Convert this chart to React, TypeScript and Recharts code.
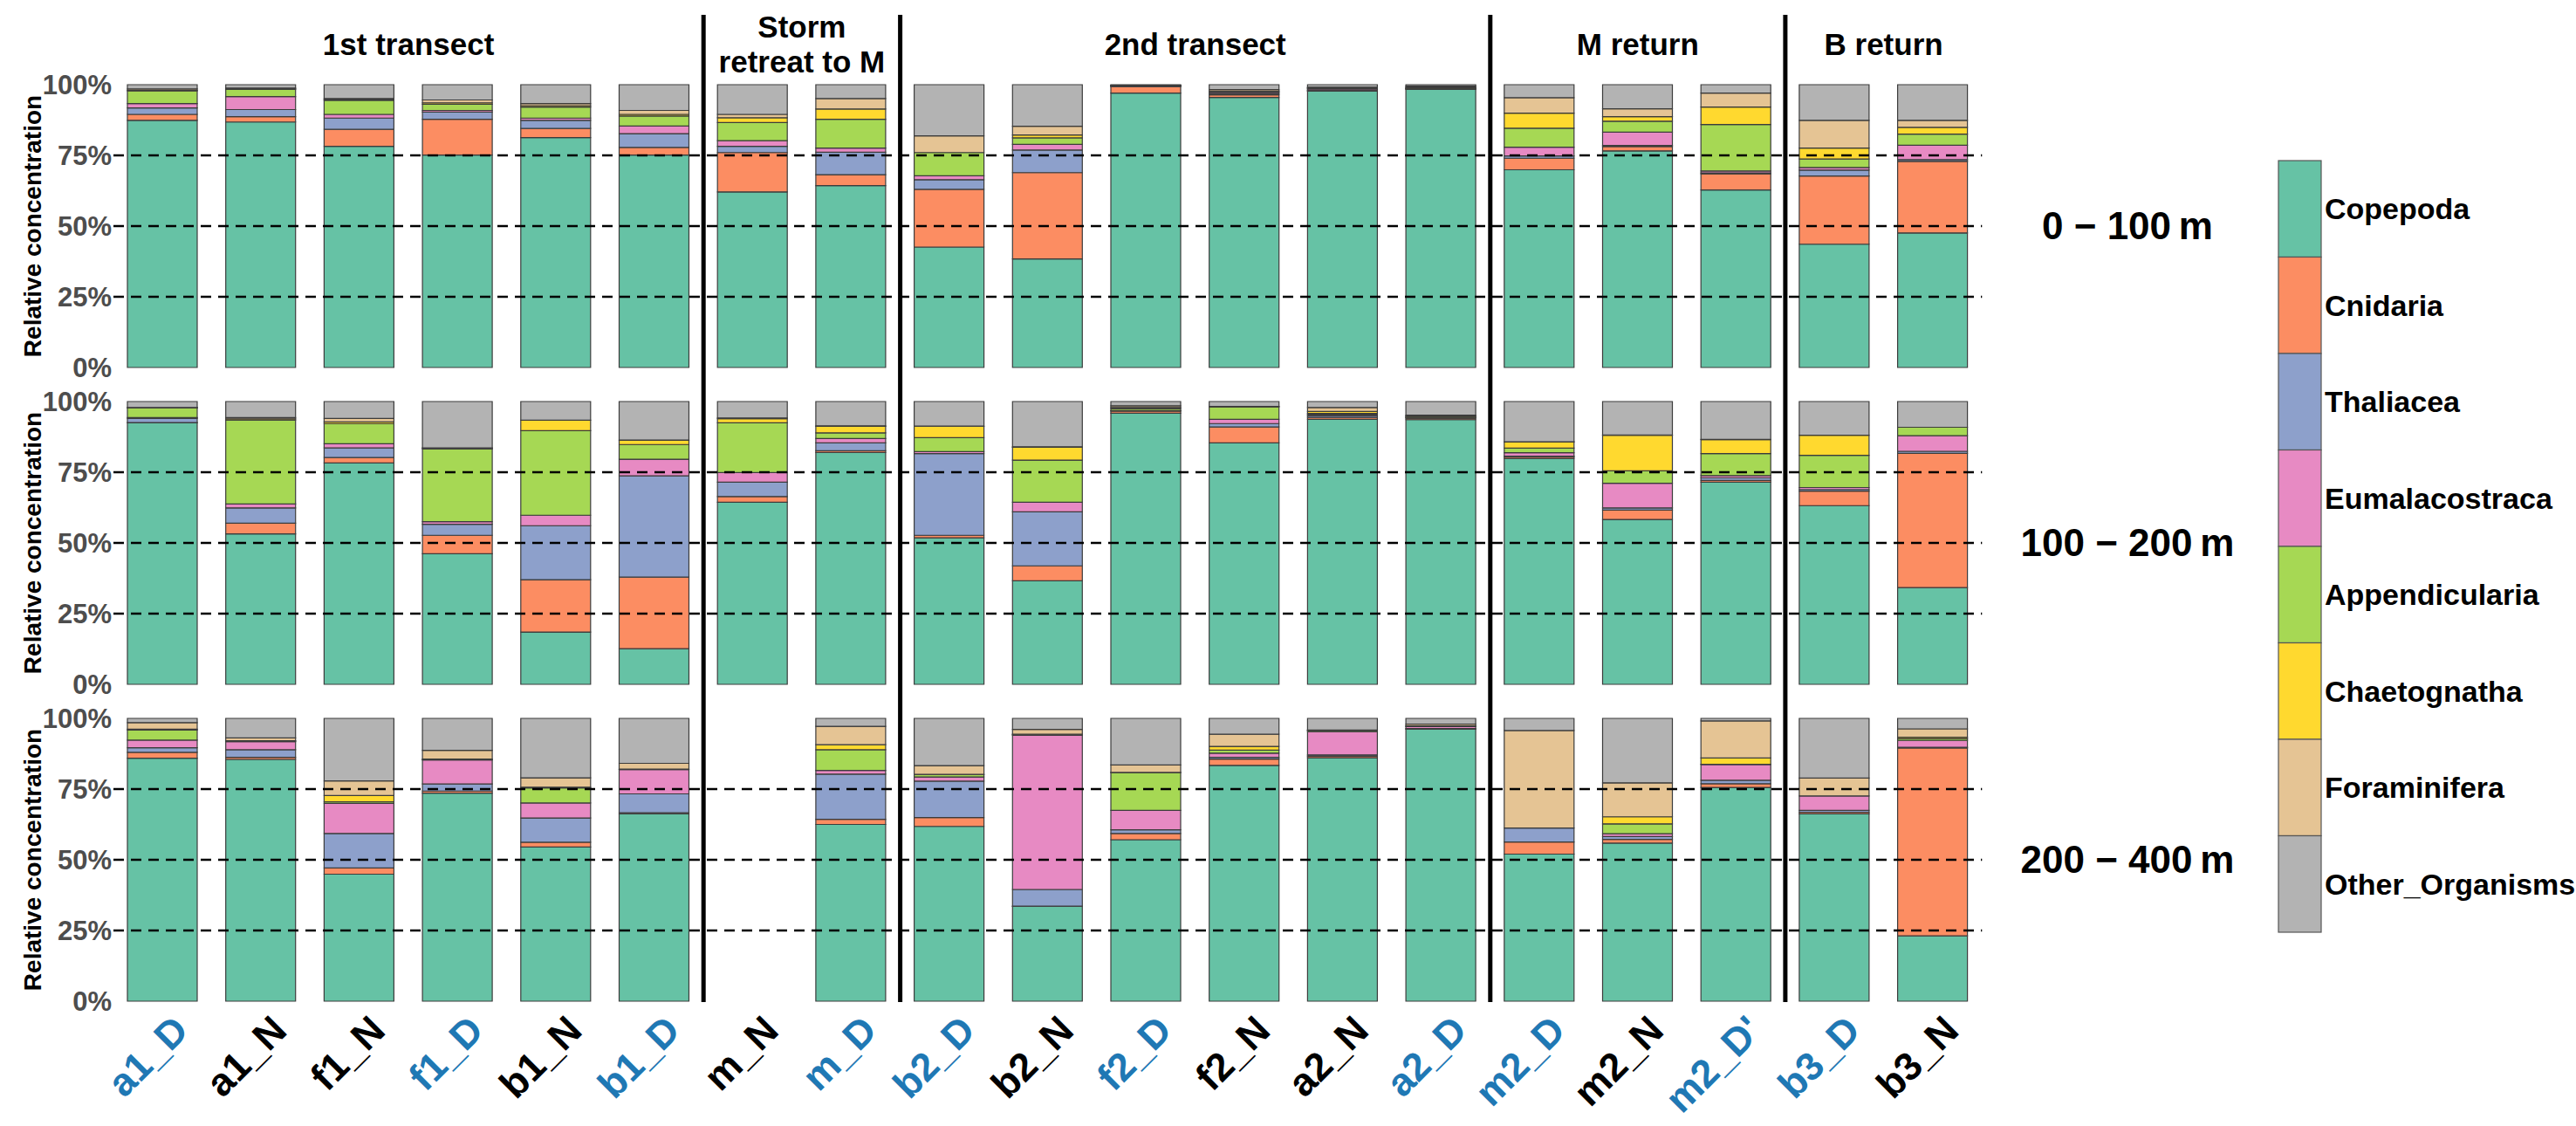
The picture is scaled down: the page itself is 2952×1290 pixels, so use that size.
import React from "react";
import { BarChart, Bar, XAxis, YAxis, ReferenceLine } from "recharts";

const FONT = "'Liberation Sans', Arial, Helvetica, sans-serif";

const samples = [
  "a1_D", "a1_N", "f1_N", "f1_D", "b1_N", "b1_D", "m_N", "m_D",
  "b2_D", "b2_N", "f2_D", "f2_N", "a2_N", "a2_D",
  "m2_D", "m2_N", "m2_D'", "b3_D", "b3_N",
];

const taxa = [
  "Copepoda", "Cnidaria", "Thaliacea", "Eumalacostraca",
  "Appendicularia", "Chaetognatha", "Foraminifera", "Other_Organisms",
];

// ColorBrewer Set2
const taxaColors = [
  "#66C2A5", "#FC8D62", "#8DA0CB", "#E78AC3",
  "#A6D854", "#FFD92F", "#E5C494", "#B3B3B3",
];

const groupNames = ["1st transect", "Storm\nretreat to M", "2nd transect", "M return", "B return"];
const groupSizes = [6, 2, 6, 3, 2];

const depthLabels = ["0 \u2212 100\u2009m", "100 \u2212 200\u2009m", "200 \u2212 400\u2009m"];
const yTicks = [0, 25, 50, 75, 100];
const gridLevels = [25, 50, 75];

// relative concentration (%), rows follow `taxa`, columns follow `samples`
const layer0to100: (number | null)[][] = [
  [87.4, 86.8, 78.2, 75.1, 81.3, 75.1, 62.1, 64.3, 42.6, 38.4, 97.0, 95.5, 97.7, 98.3, 69.9, 76.6, 62.8, 43.6, 47.6],
  [2.1, 1.9, 6.0, 12.7, 3.2, 2.7, 13.9, 3.9, 20.4, 30.5, 2.3, 0.9, 0.2, 0.2, 4.1, 1.5, 5.7, 24.1, 25.3],
  [2.3, 2.5, 4.0, 2.5, 2.9, 4.9, 2.2, 7.9, 3.4, 8.0, 0.1, 0.5, 0.2, 0.1, 0.8, 0.4, 0.3, 2.1, 0.6],
  [1.5, 4.6, 1.3, 0.6, 0.8, 2.7, 2.0, 1.5, 1.4, 2.0, 0.1, 0.4, 0.5, 0.1, 3.1, 4.7, 0.7, 0.9, 5.1],
  [4.5, 2.5, 5.0, 2.2, 3.9, 3.5, 6.4, 10.2, 8.2, 2.3, 0.1, 0.3, 0.2, 0.2, 6.7, 3.9, 16.4, 3.0, 3.9],
  [0.2, 0.3, 0.3, 0.5, 0.5, 0.6, 1.7, 3.6, 0, 1.0, 0.1, 0.2, 0.1, 0.2, 5.3, 1.6, 6.2, 3.9, 2.4],
  [0.5, 0.2, 0.3, 1.0, 0.7, 1.4, 1.2, 3.7, 5.9, 3.1, 0.1, 0.5, 0.2, 0.4, 5.5, 2.8, 4.9, 9.8, 2.5],
  [1.5, 1.2, 4.9, 5.4, 6.7, 9.1, 10.5, 4.9, 18.1, 14.7, 0.2, 1.7, 0.9, 0.5, 4.6, 8.5, 3.0, 12.6, 12.6],
];

const layer100to200: (number | null)[][] = [
  [92.5, 53.2, 78.3, 46.2, 18.5, 12.6, 64.4, 82.0, 51.8, 36.6, 95.9, 85.4, 93.7, 93.6, 79.9, 58.3, 71.5, 63.2, 34.2],
  [0.1, 3.8, 1.9, 6.5, 18.5, 25.3, 2.0, 0.6, 0.9, 5.3, 0.7, 5.6, 0.7, 0.5, 0.6, 3.3, 0.6, 5.1, 47.5],
  [1.4, 5.4, 3.4, 3.9, 19.1, 35.8, 5.1, 2.8, 28.9, 19.1, 0.1, 1.2, 0.6, 0.2, 0.2, 0.8, 0.9, 0.6, 0.7],
  [0.3, 1.4, 1.5, 0.9, 3.7, 5.9, 3.4, 1.5, 0.7, 3.4, 0.1, 1.5, 0.4, 0.1, 1.2, 8.7, 0.8, 0.7, 5.5],
  [3.4, 29.7, 7.1, 25.7, 29.9, 5.2, 17.6, 2.0, 4.9, 14.9, 0.7, 4.4, 0.4, 0.3, 1.6, 4.4, 7.8, 11.4, 3.0],
  [0.1, 0.4, 0.6, 0.3, 3.7, 1.5, 1.4, 2.3, 4.0, 4.5, 0.4, 0.1, 0.7, 0.2, 2.2, 12.6, 4.9, 7.1, 0],
  [0.1, 0.4, 1.2, 0.1, 0, 0.1, 0.3, 0.2, 0.1, 0.2, 0.6, 0.1, 1.4, 0.3, 0.1, 0.1, 0.1, 0, 0],
  [2.1, 5.7, 6.0, 16.4, 6.6, 13.6, 5.8, 8.6, 8.7, 16.0, 1.5, 1.7, 2.1, 4.8, 14.2, 11.8, 13.4, 11.9, 9.1],
];

// m_N has no sample in the deepest layer
const layer200to400: (number | null)[][] = [
  [85.9, 85.5, 44.9, 73.6, 54.5, 66.2, null, 62.5, 61.8, 33.5, 57.1, 83.4, 86.1, 96.2, 52.0, 55.9, 75.6, 66.2, 23.1],
  [2.1, 0.7, 2.2, 0.7, 1.7, 0.4, null, 1.8, 3.1, 0.1, 2.2, 2.2, 0.5, 0.1, 4.3, 1.3, 1.3, 0.6, 66.4],
  [1.6, 2.7, 12.2, 2.5, 8.6, 6.7, null, 16.0, 12.9, 5.9, 1.3, 0.6, 0.5, 0.1, 4.9, 1.0, 1.2, 0.7, 0.3],
  [2.7, 2.9, 10.6, 8.5, 5.3, 8.6, null, 1.3, 1.5, 54.5, 6.9, 1.5, 8.2, 0.7, 0, 1.0, 5.6, 5.1, 2.4],
  [3.6, 0.2, 0.6, 0.1, 5.3, 0.1, null, 7.3, 0.8, 0.3, 13.3, 1.1, 0.4, 0.1, 0, 3.5, 0.1, 0, 0.6],
  [0.3, 0.1, 2.2, 0.2, 0.3, 0.1, null, 1.8, 0.1, 0.1, 0.1, 1.3, 0.1, 0.2, 0, 2.5, 2.2, 0, 0.5],
  [2.3, 1.0, 5.2, 3.1, 3.3, 2.0, null, 6.5, 3.1, 1.7, 2.6, 4.3, 0.1, 0.6, 34.5, 12.0, 13.1, 6.3, 3.0],
  [1.5, 6.9, 22.1, 11.3, 21.0, 15.9, null, 2.8, 16.7, 3.9, 16.5, 5.6, 4.1, 2.0, 4.3, 22.8, 0.9, 21.1, 3.7],
];

const toRows = (layer: (number | null)[][]) =>
  samples.map((s, i) => {
    const row: Record<string, any> = { sample: s };
    taxa.forEach((t, k) => (row[t] = layer[k][i]));
    return row;
  });

// first sample of each group, and where each group title sits
const groupStarts: number[] = [];
groupSizes.reduce((acc, n) => (groupStarts.push(acc), acc + n), 0);
const separatorSamples = groupStarts.slice(1).map((i) => samples[i]);
const titleAnchors = groupNames.map((name, g) => {
  const n = groupSizes[g];
  const idx = groupStarts[g] + Math.floor(n / 2);
  return { sample: samples[idx], lines: name.split("\n"), between: n % 2 === 0 };
});

const CHART_W = 2300;
const PLOT_LEFT = 130;
const PLOT_RIGHT_MARGIN = 28.7;
const HALF_BAND = (CHART_W - PLOT_LEFT - PLOT_RIGHT_MARGIN) / samples.length / 2;

const makeSeparator = (up: number, down: number) => (props: any) => {
  const { x1, y1, y2 } = props;
  const top = Math.min(y1, y2) - up;
  const bottom = Math.max(y1, y2) + down;
  return <line x1={x1} x2={x1} y1={top} y2={bottom} stroke="#000" strokeWidth={5} />;
};

const TitleTick = (props: any) => {
  const { x, payload } = props;
  const a = titleAnchors.find((t) => t.sample === payload.value);
  if (!a) return null;
  const half = payload.offset ? payload.offset : HALF_BAND;
  const cx = a.between ? x - half : x;
  const baselines = a.lines.length === 1 ? [63] : [43, 83];
  return (
    <g>
      {a.lines.map((l, i) => (
        <text key={i} x={cx} y={baselines[i]} textAnchor="middle" fontSize={35}
          fontWeight="bold" fontFamily={FONT} fill="#000">{l}</text>
      ))}
    </g>
  );
};

const SampleTick = (props: any) => {
  const { x, y, payload } = props;
  const s = String(payload.value);
  const day = s.includes("_D");
  return (
    <text transform={`translate(${x + 32},${y + 36}) rotate(-45)`} textAnchor="end"
      fontSize={45} fontWeight="bold" fontFamily={FONT} fill={day ? "#1f78b4" : "#000"}>
      {s}
    </text>
  );
};

type PanelProps = {
  layer: (number | null)[][];
  top: number;
  height: number;
  marginTop: number;
  marginBottom: number;
  lineUp: number;
  lineDown: number;
  titles?: boolean;
  labels?: boolean;
};

function Panel({ layer, top, height, marginTop, marginBottom, lineUp, lineDown, titles, labels }: PanelProps) {
  const data = toRows(layer);
  const sep = makeSeparator(lineUp, lineDown);
  return (
    <div style={{ position: "absolute", left: 0, top, width: CHART_W, height }}>
      <BarChart width={CHART_W} height={height} data={data}
        margin={{ top: marginTop, right: PLOT_RIGHT_MARGIN, bottom: marginBottom, left: 0 }}>
        {titles && (
          <XAxis xAxisId="top" orientation="top" dataKey="sample" height={90} interval={0}
            axisLine={false} tickLine={false} tick={<TitleTick />} />
        )}
        {labels ? (
          <XAxis dataKey="sample" height={143} interval={0} axisLine={false} tickLine={false}
            tickSize={0} tickMargin={0} tick={<SampleTick />} />
        ) : (
          <XAxis dataKey="sample" hide />
        )}
        <YAxis width={PLOT_LEFT} domain={[0, 100]} ticks={yTicks} interval={0}
          tickFormatter={(v: number) => `${v}%`} axisLine={false} tickLine={false}
          tickSize={0} tickMargin={2}
          tick={{ fill: "#4D4D4D", fontSize: 31, fontWeight: "bold", fontFamily: FONT }} />
        {taxa.map((t, k) => (
          <Bar key={t} dataKey={t} stackId="s" barSize={80} fill={taxaColors[k]}
            stroke="#3c3c3c" strokeWidth={1.2} isAnimationActive={false} />
        ))}
        {gridLevels.map((v) => (
          <ReferenceLine key={v} y={v} stroke="#000" strokeWidth={2.5} strokeDasharray="12 8" />
        ))}
        {separatorSamples.map((s) => (
          <ReferenceLine key={s} x={s} position="start" ifOverflow="visible" shape={sep} />
        ))}
      </BarChart>
    </div>
  );
}

const panelCenters = [259, 622, 985];
const LEGEND_TOP = 184;
const LEGEND_KEY_H = 110.5;

export default function App() {
  return (
    <div style={{ position: "absolute", left: 0, top: 0, width: 2952, height: 1290, background: "#fff", overflow: "hidden" }}>
      <Panel layer={layer0to100} top={0} height={441} marginTop={7} marginBottom={20} lineUp={80} lineDown={20} titles />
      <Panel layer={layer100to200} top={441} height={365} marginTop={19} marginBottom={22} lineUp={19} lineDown={22} />
      <Panel layer={layer200to400} top={806} height={484} marginTop={17} marginBottom={0} lineUp={17} lineDown={1} labels />
      <svg width={2952} height={1290} style={{ position: "absolute", left: 0, top: 0, pointerEvents: "none" }}>
        {panelCenters.map((cy, i) => (
          <g key={i} fontFamily={FONT} fontWeight="bold" fill="#000">
            <text transform={`translate(47,${cy}) rotate(-90)`} textAnchor="middle" fontSize={28}>
              Relative concentration
            </text>
            <text x={2438} y={cy + 15} textAnchor="middle" fontSize={44}>{depthLabels[i]}</text>
          </g>
        ))}
        {taxa.map((t, k) => (
          <g key={t}>
            <rect x={2611} y={LEGEND_TOP + k * LEGEND_KEY_H} width={49} height={LEGEND_KEY_H}
              fill={taxaColors[k]} stroke="#555" strokeWidth={1.2} />
            <text x={2664} y={LEGEND_TOP + (k + 0.5) * LEGEND_KEY_H + 12} fontSize={34}
              fontWeight="bold" fontFamily={FONT} fill="#000">{t}</text>
          </g>
        ))}
      </svg>
    </div>
  );
}
